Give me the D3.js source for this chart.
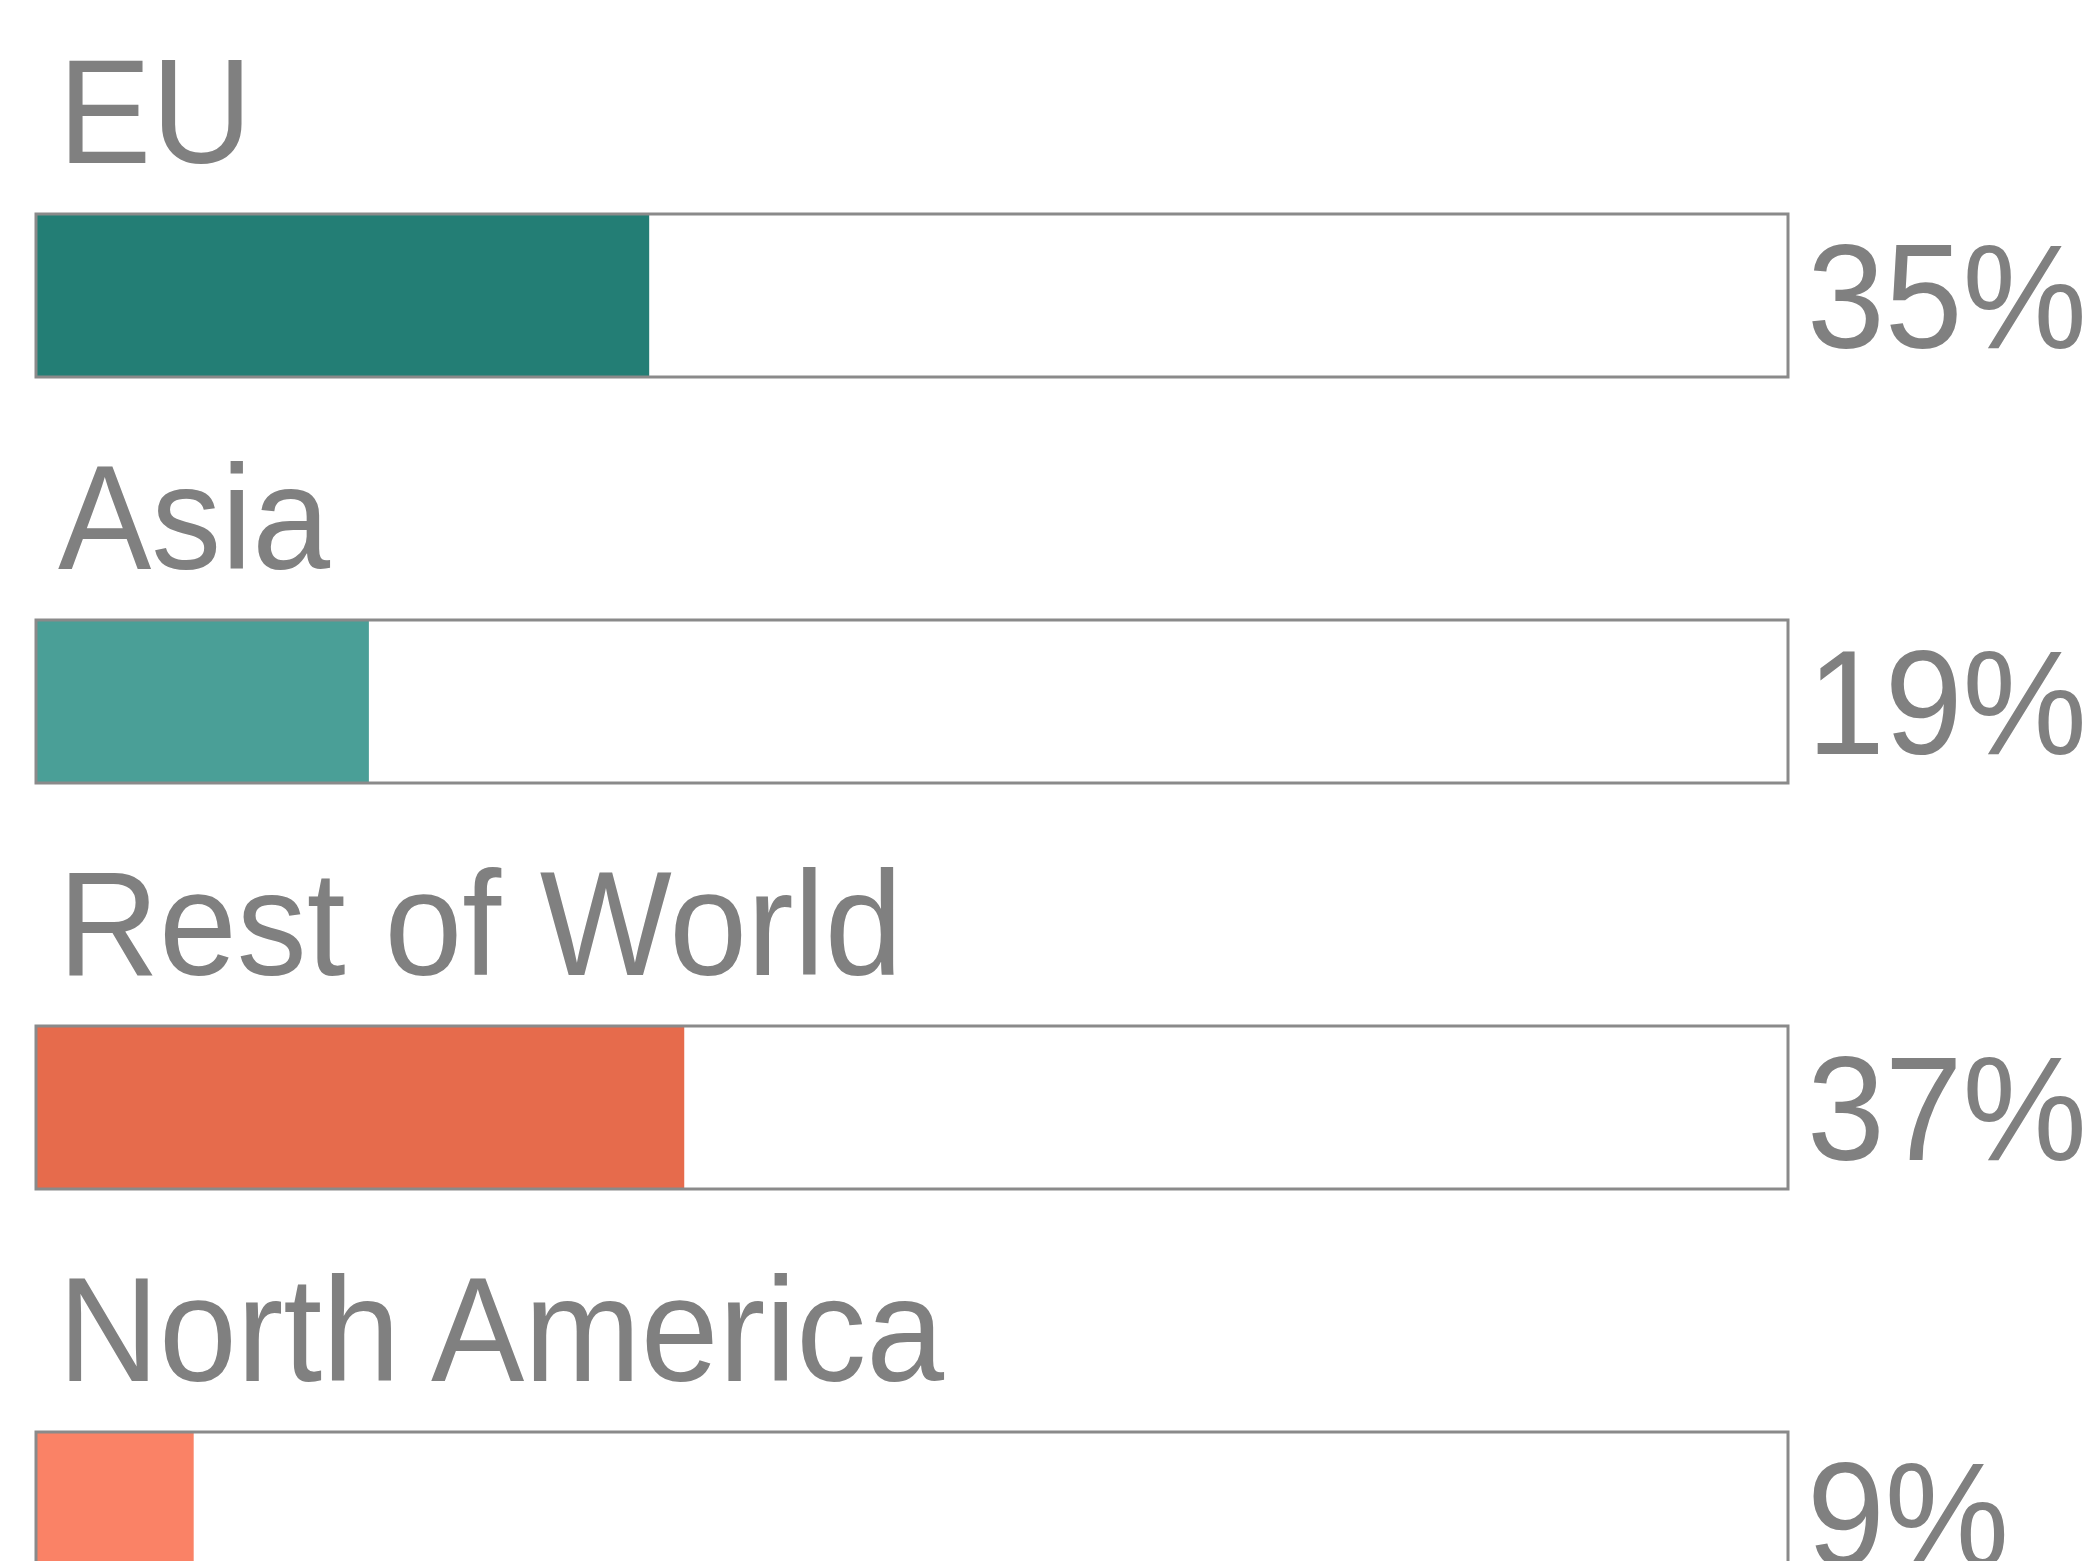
<!DOCTYPE html>
<html>
<head>
<meta charset="utf-8">
<script src="https://cdn.jsdelivr.net/npm/d3@7"></script>
<style>
  html, body { margin: 0; padding: 0; background: #ffffff; overflow: hidden; }
  svg { display: block; }
</style>
</head>
<body>
<svg id="chart" width="2096" height="1561"></svg>
<script>
const categories = ["EU", "Asia", "Rest of World", "North America"];
const values = [35, 19, 37, 9];
const valueLabels = ["35%", "19%", "37%", "9%"];
const colors = ["#237E75", "#4A9F97", "#E66B4C", "#FA8266"];

const svg = d3.select("#chart");
const textColor = "#808080";
const fontFamily = "'Liberation Sans', Arial, sans-serif";
const fontSize = 148;
const sx = 0.945;

const x = d3.scaleLinear().domain([0, 100]).range([36, 1788]);
const rowY = d3.scaleLinear().domain([0, 1]).range([214, 620]); // row pitch 406
const barH = 163;

const rows = svg.selectAll("g.row")
  .data(categories.map((c, i) => ({ cat: c, v: values[i], lab: valueLabels[i], col: colors[i], i })))
  .join("g")
  .attr("class", "row");

// category label
rows.append("text")
  .attr("transform", d => `translate(58,${rowY(d.i) - 51}) scale(${sx},1)`)
  .attr("fill", textColor)
  .attr("font-family", fontFamily)
  .attr("font-size", fontSize)
  .text(d => d.cat);

// filled portion
rows.append("rect")
  .attr("x", x(0))
  .attr("y", d => rowY(d.i))
  .attr("width", d => x(d.v) - x(0))
  .attr("height", barH)
  .attr("fill", d => d.col);

// outline box
rows.append("rect")
  .attr("x", x(0))
  .attr("y", d => rowY(d.i))
  .attr("width", x(100) - x(0))
  .attr("height", barH)
  .attr("fill", "none")
  .attr("stroke", "#8a8a8a")
  .attr("stroke-width", 3);

// value label
rows.append("text")
  .attr("transform", d => `translate(1807,${rowY(d.i) + barH / 2 + fontSize * 0.355}) scale(${sx},1)`)
  .attr("fill", textColor)
  .attr("font-family", fontFamily)
  .attr("font-size", fontSize)
  .text(d => d.lab);
</script>
</body>
</html>
